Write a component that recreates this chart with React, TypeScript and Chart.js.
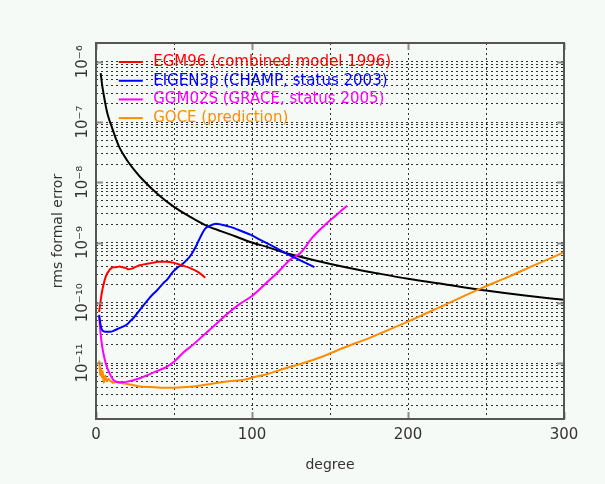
import { useEffect, useRef } from 'react';
import { Chart, registerables } from 'chart.js';

Chart.register(...registerables);

// ---- data ----
const kaulaDeg = [3, 4, 5, 6, 7, 8, 9, 10, 12, 15, 20, 25, 30, 40, 50, 60, 70, 80, 90, 100, 110, 120, 140, 160, 180, 200, 225, 250, 275, 300];
const kaulaVal = [6.5e-7, 4.0e-7, 2.8e-7, 2.0e-7, 1.5e-7, 1.2e-7, 1.0e-7, 8.5e-8, 6.0e-8, 3.8e-8, 2.3e-8, 1.55e-8, 1.1e-8, 6.2e-9, 3.9e-9, 2.7e-9, 1.95e-9, 1.55e-9, 1.25e-9, 1.0e-9, 8.4e-10, 6.9e-10, 5.1e-10, 3.9e-10, 3.1e-10, 2.5e-10, 2.0e-10, 1.6e-10, 1.32e-10, 1.12e-10];

const egmDeg = [2, 3, 4, 5, 6, 7, 8, 9, 11, 13, 15, 17, 19, 21, 23, 25, 28, 32, 36, 40, 45, 50, 55, 60, 65, 68, 70];
const egmVal = [7e-11, 1.1e-10, 1.6e-10, 2.1e-10, 2.6e-10, 3.0e-10, 3.3e-10, 3.6e-10, 3.9e-10, 3.9e-10, 4.0e-10, 3.9e-10, 3.8e-10, 3.6e-10, 3.7e-10, 3.9e-10, 4.2e-10, 4.4e-10, 4.6e-10, 4.8e-10, 4.8e-10, 4.6e-10, 4.2e-10, 3.8e-10, 3.3e-10, 2.9e-10, 2.6e-10];

const eigenDeg = [2, 3, 4, 6, 9, 12, 15, 18, 20, 22, 24, 27, 30, 33, 36, 39, 43, 46, 49, 52, 55, 58, 60, 62, 64, 66, 68, 70, 73, 77, 80, 86, 92, 99, 105, 112, 118, 124, 130, 135, 140];
const eigenVal = [6.3e-11, 4.2e-11, 3.5e-11, 3.3e-11, 3.3e-11, 3.5e-11, 3.8e-11, 4.1e-11, 4.4e-11, 5.0e-11, 5.6e-11, 7.0e-11, 8.8e-11, 1.1e-10, 1.35e-10, 1.6e-10, 2.1e-10, 2.5e-10, 3.2e-10, 3.8e-10, 4.3e-10, 5.1e-10, 5.8e-10, 6.9e-10, 8.6e-10, 1.1e-9, 1.4e-9, 1.7e-9, 1.9e-9, 2.05e-9, 2.0e-9, 1.82e-9, 1.6e-9, 1.35e-9, 1.12e-9, 9.1e-10, 7.5e-10, 6.2e-10, 5.2e-10, 4.5e-10, 3.9e-10];

const ggmDeg = [2, 3, 4, 5, 6, 7, 9, 11, 13, 15, 18, 21, 24, 28, 33, 38, 45, 50, 56, 62, 67, 75, 84, 92, 100, 108, 118, 124, 131, 139, 148, 155, 161];
const ggmVal = [6.0e-11, 3.0e-11, 1.85e-11, 1.35e-11, 1.05e-11, 8.6e-12, 6.5e-12, 5.3e-12, 4.9e-12, 4.8e-12, 4.8e-12, 5.0e-12, 5.2e-12, 5.6e-12, 6.3e-12, 7.2e-12, 8.6e-12, 1.05e-11, 1.5e-11, 2.0e-11, 2.6e-11, 4.0e-11, 6.5e-11, 9.5e-11, 1.3e-10, 2.0e-10, 3.5e-10, 5.1e-10, 6.7e-10, 1.24e-9, 2.1e-9, 3.0e-9, 4.1e-9];

const goceDeg = [2, 2.3, 2.6, 3, 3.4, 3.8, 4.2, 4.6, 5, 5.5, 6, 6.5, 7, 8, 9, 10, 11, 13, 15, 18, 22, 28, 35, 42, 50, 58, 66, 75, 85, 95, 101, 110, 122, 133, 144, 160, 175, 195, 210, 225, 246, 265, 280, 300];
const goceVal = [1.1e-11, 9.0e-12, 6.3e-12, 8.3e-12, 6.5e-12, 5.8e-12, 7.4e-12, 6.0e-12, 4.7e-12, 5.6e-12, 6.2e-12, 5.3e-12, 5.0e-12, 5.5e-12, 5.1e-12, 4.9e-12, 4.7e-12, 4.9e-12, 4.7e-12, 4.6e-12, 4.4e-12, 4.1e-12, 4.0e-12, 3.9e-12, 3.9e-12, 4.0e-12, 4.2e-12, 4.6e-12, 5.0e-12, 5.3e-12, 5.8e-12, 6.6e-12, 8.3e-12, 1.0e-11, 1.25e-11, 1.85e-11, 2.6e-11, 4.3e-11, 6.4e-11, 9.6e-11, 1.7e-10, 2.75e-10, 4.1e-10, 6.9e-10];

const seriesLabels = ['EGM96 (combined model 1996)', 'EIGEN3p (CHAMP, status 2003)', 'GGM02S (GRACE, status 2005)', 'GOCE (prediction)', ''];
const seriesColors = ['#ff0000', '#0000ff', '#ff00ff', '#ff8c00', '#000000'];

const xTickLabels = [0, 100, 200, 300];
const yTickExps = [-11, -10, -9, -8, -7, -6];
const xTitle = 'degree';
const yTitle = 'rms formal error';

// ---- styling ----
const FONT = "'DejaVu Sans', sans-serif";
const BG = '#f6faf7';
const TEXT = '#333333';
const Y_MIN = 1.18e-12;
const Y_MAX = 2.05e-6;

const SUP: Record<string, string> = { '-': '⁻', '0': '⁰', '1': '¹', '2': '²', '3': '³', '4': '⁴', '5': '⁵', '6': '⁶', '7': '⁷', '8': '⁸', '9': '⁹' };
const sup = (n: number) => String(n).split('').map((c) => SUP[c]).join('');

const toPoints = (xs: number[], ys: number[]) => xs.map((x, i) => ({ x, y: ys[i] }));

const framePlugin = {
  id: 'frame',
  afterDraw(chart: any) {
    const { ctx, chartArea, scales } = chart;
    const { left, right, top, bottom } = chartArea;
    ctx.save();
    ctx.strokeStyle = '#8c8c8c';
    ctx.lineWidth = 2;
    scales.y.ticks.forEach((t: any) => {
      if (t.label) {
        const py = Math.round(scales.y.getPixelForValue(t.value)) + 0.5;
        ctx.beginPath();
        ctx.moveTo(left, py); ctx.lineTo(left + 7, py);
        ctx.moveTo(right - 7, py); ctx.lineTo(right, py);
        ctx.stroke();
      }
    });
    scales.x.ticks.forEach((t: any) => {
      if (t.label) {
        const px = Math.round(scales.x.getPixelForValue(t.value)) + 0.5;
        ctx.beginPath();
        ctx.moveTo(px, bottom); ctx.lineTo(px, bottom - 7);
        ctx.moveTo(px, top); ctx.lineTo(px, top + 7);
        ctx.stroke();
      }
    });
    ctx.strokeStyle = '#555555';
    ctx.lineWidth = 2;
    ctx.strokeRect(left, top, right - left, bottom - top);
    ctx.restore();
  },
};

export default function App() {
  const ref = useRef<HTMLCanvasElement | null>(null);

  useEffect(() => {
    if (!ref.current) return;
    const legendImgs = seriesColors.map((c) => {
      const cv = document.createElement('canvas');
      cv.width = 46;
      cv.height = 4;
      const g = cv.getContext('2d')!;
      g.fillStyle = BG;
      g.fillRect(19, 0, 24, 4);
      g.fillStyle = c;
      g.fillRect(19, 1, 24, 2);
      return cv;
    });

    const xs = [egmDeg, eigenDeg, ggmDeg, goceDeg, kaulaDeg];
    const ys = [egmVal, eigenVal, ggmVal, goceVal, kaulaVal];

    const chart = new Chart(ref.current, {
      type: 'line',
      data: {
        datasets: xs.map((x, i) => ({
          label: seriesLabels[i],
          data: toPoints(x, ys[i]),
          borderColor: seriesColors[i],
          backgroundColor: seriesColors[i],
          borderWidth: 2,
          pointRadius: 0,
          fill: false,
          cubicInterpolationMode: 'monotone' as const,
        })),
      },
      options: {
        animation: false,
        responsive: false,
        events: [],
        layout: { padding: { top: 43, right: 41, left: 0, bottom: 0 } },
        plugins: {
          tooltip: { enabled: false },
          legend: {
            position: 'chartArea' as any,
            align: 'start',
            title: { display: true, text: ' ', font: { size: 1 }, padding: { top: 49.6, bottom: 0 } },
            labels: {
              font: { family: FONT, size: 15 },
              padding: 3.7,
              usePointStyle: true,
              pointStyleWidth: 46,
              boxHeight: 2,
              generateLabels: (ch: any) =>
                ch.data.datasets
                  .map((ds: any, i: number) => ({
                    text: ds.label,
                    fillStyle: ds.borderColor,
                    strokeStyle: ds.borderColor,
                    fontColor: ds.borderColor,
                    lineWidth: 0,
                    pointStyle: legendImgs[i],
                    datasetIndex: i,
                    hidden: false,
                  }))
                  .filter((it: any) => it.text !== ''),
            },
          },
        },
        scales: {
          x: {
            type: 'linear',
            min: 0,
            max: 300,
            afterFit: (s: any) => { s.height = 65; },
            ticks: {
              stepSize: 50,
              autoSkip: false,
              maxRotation: 0,
              padding: 7,
              color: TEXT,
              font: { family: FONT, size: 15 },
              callback: (v: any) => (xTickLabels.includes(Number(v)) ? String(v) : ''),
            },
            grid: { color: 'rgba(0,0,0,0.8)', lineWidth: 1, drawTicks: false, z: -1 },
            border: { display: false, dash: [2, 3] },
            title: { display: true, text: xTitle, color: TEXT, font: { family: FONT, size: 14 }, padding: { top: 0, bottom: 10 } },
          },
          y: {
            type: 'logarithmic',
            min: Y_MIN,
            max: Y_MAX,
            afterFit: (s: any) => { s.width = 96; },
            afterBuildTicks: (s: any) => {
              const ticks: any[] = [];
              for (let e = -12; e <= -6; e++) {
                for (let m = 1; m <= 9; m++) {
                  const v = m * Math.pow(10, e);
                  if (v >= Y_MIN && v <= Y_MAX) ticks.push({ value: v });
                }
              }
              s.ticks = ticks;
            },
            ticks: {
              autoSkip: false,
              minRotation: 90,
              maxRotation: 90,
              crossAlign: 'center',
              padding: -7,
              color: TEXT,
              font: { family: FONT, size: 15 },
              callback: (v: any) => {
                const e = Math.round(Math.log10(Number(v)));
                const p = Math.pow(10, e);
                return Math.abs(Number(v) - p) < 1e-3 * p && yTickExps.includes(e) ? '10' + sup(e) : '';
              },
            },
            grid: { color: 'rgba(0,0,0,0.8)', lineWidth: 1, drawTicks: false, z: -1 },
            border: { display: false, dash: [2, 3] },
            title: { display: true, text: yTitle, color: TEXT, font: { family: FONT, size: 14 }, padding: { top: 50, bottom: 0 } },
          },
        },
      },
      plugins: [framePlugin],
    } as any);
    return () => chart.destroy();
  }, []);

  return (
    <div style={{ position: 'fixed', left: 0, top: 0, width: 605, height: 484, background: BG }}>
      <canvas ref={ref} width={605} height={484} style={{ display: 'block' }} />
    </div>
  );
}
